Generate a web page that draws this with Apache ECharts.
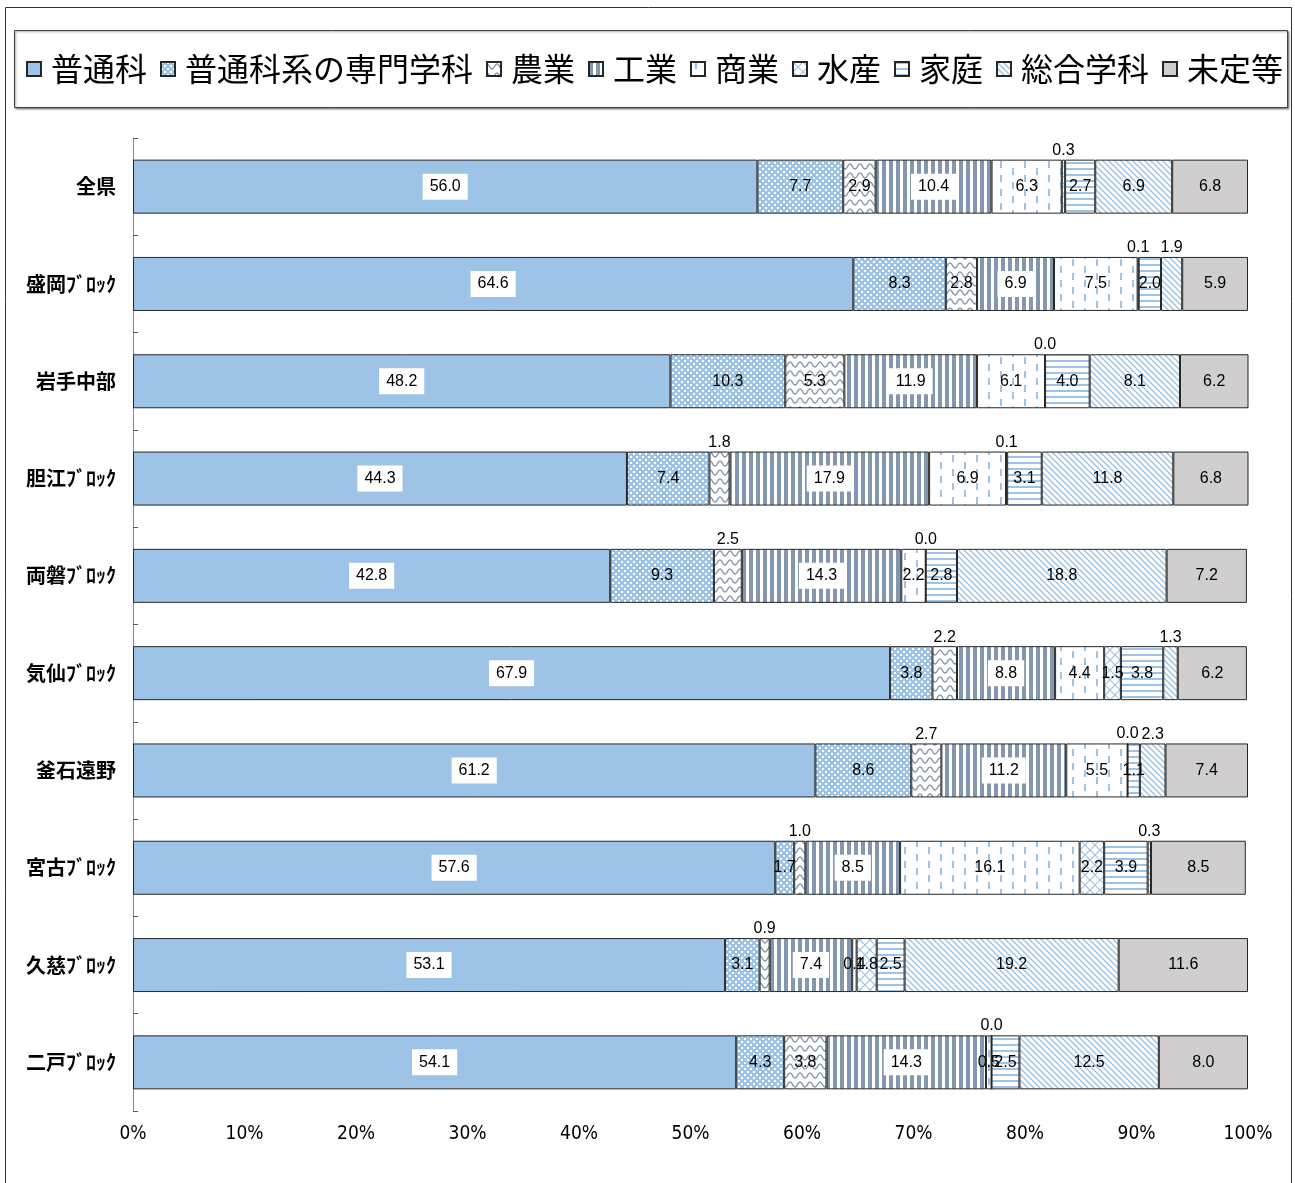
<!DOCTYPE html>
<html>
<head>
<meta charset="utf-8">
<script src="https://cdn.jsdelivr.net/npm/echarts@6/dist/echarts.min.js"></script>
<style>
html,body{margin:0;padding:0;background:#fff;}
#chart{width:1295px;height:1183px;}
</style>
</head>
<body>
<div id="chart"></div>
<script>
// ---- data ----
const categories = ['全県','盛岡ﾌﾞﾛｯｸ','岩手中部','胆江ﾌﾞﾛｯｸ','両磐ﾌﾞﾛｯｸ','気仙ﾌﾞﾛｯｸ','釜石遠野','宮古ﾌﾞﾛｯｸ','久慈ﾌﾞﾛｯｸ','二戸ﾌﾞﾛｯｸ'];
const seriesNames = ['普通科','普通科系の専門学科','農業','工業','商業','水産','家庭','総合学科','未定等'];
const futsu       = [56.0,64.6,48.2,44.3,42.8,67.9,61.2,57.6,53.1,54.1];
const futsuSenmon = [7.7,8.3,10.3,7.4,9.3,3.8,8.6,1.7,3.1,4.3];
const nogyo       = [2.9,2.8,5.3,1.8,2.5,2.2,2.7,1.0,0.9,3.8];
const kogyo       = [10.4,6.9,11.9,17.9,14.3,8.8,11.2,8.5,7.4,14.3];
const shogyo      = [6.3,7.5,6.1,6.9,2.2,4.4,5.5,16.1,0.4,0.5];
const suisan      = [0.3,0.1,0.0,0.1,0.0,1.5,0.0,2.2,1.8,0.0];
const katei       = [2.7,2.0,4.0,3.1,2.8,3.8,1.1,3.9,2.5,2.5];
const sogo        = [6.9,1.9,8.1,11.8,18.8,1.3,2.3,0.3,19.2,12.5];
const mitei       = [6.8,5.9,6.2,6.8,7.2,6.2,7.4,8.5,11.6,8.0];
const seriesValues = [futsu,futsuSenmon,nogyo,kogyo,shogyo,suisan,katei,sogo,mitei];
const xTicks = [0,10,20,30,40,50,60,70,80,90,100];
// labels drawn above the bar instead of inside
const labelsAbove = [
  ['全県','水産'],
  ['盛岡ﾌﾞﾛｯｸ','水産'],['盛岡ﾌﾞﾛｯｸ','総合学科'],
  ['岩手中部','水産'],
  ['胆江ﾌﾞﾛｯｸ','農業'],['胆江ﾌﾞﾛｯｸ','水産'],
  ['両磐ﾌﾞﾛｯｸ','農業'],['両磐ﾌﾞﾛｯｸ','水産'],
  ['気仙ﾌﾞﾛｯｸ','農業'],['気仙ﾌﾞﾛｯｸ','総合学科'],
  ['釜石遠野','農業'],['釜石遠野','水産'],['釜石遠野','総合学科'],
  ['宮古ﾌﾞﾛｯｸ','農業'],['宮古ﾌﾞﾛｯｸ','総合学科'],
  ['久慈ﾌﾞﾛｯｸ','農業'],
  ['二戸ﾌﾞﾛｯｸ','水産']
];

// ---- patterns ----
const LB = '#9DC3E6', BG = '#8497B0';
function pat(w,h,draw){
  const c=document.createElement('canvas'); c.width=w; c.height=h;
  const ctx=c.getContext('2d'); draw(ctx,w,h);
  return {image:c, repeat:'repeat'};
}
const fills = [
  LB,
  pat(6,6,(g,w,h)=>{g.fillStyle=LB;g.fillRect(0,0,w,h);g.fillStyle='#fff';g.fillRect(0,0,2,2);g.fillRect(3,3,2,2);}),
  pat(10,9,(g,w,h)=>{g.fillStyle='#fff';g.fillRect(0,0,w,h);g.strokeStyle=BG;g.lineWidth=1.4;g.beginPath();
     for(let x=0;x<=w;x+=0.5){const y=4.5-2.6*Math.cos(2*Math.PI*x/w); if(x===0)g.moveTo(x,y); else g.lineTo(x,y);} g.stroke();}),
  pat(7,2,(g,w,h)=>{g.fillStyle='#fff';g.fillRect(0,0,w,h);g.fillStyle=BG;g.fillRect(0,0,4,h);}),
  pat(24,14,(g,w,h)=>{g.fillStyle='#fff';g.fillRect(0,0,w,h);g.fillStyle=LB;g.fillRect(4,0,2,7);g.fillRect(16,7,2,7);}),
  pat(10,10,(g,w,h)=>{g.fillStyle='#fff';g.fillRect(0,0,w,h);g.strokeStyle=LB;g.lineWidth=1.2;g.beginPath();
     g.moveTo(0,0);g.lineTo(w,h);g.moveTo(w,0);g.lineTo(0,h);g.stroke();}),
  pat(2,6,(g,w,h)=>{g.fillStyle='#fff';g.fillRect(0,0,w,h);g.fillStyle=LB;g.fillRect(0,0,w,2);}),
  pat(6,6,(g,w,h)=>{g.fillStyle='#fff';g.fillRect(0,0,w,h);g.strokeStyle=LB;g.lineWidth=1.4;g.beginPath();
     for(let k=-1;k<=1;k++){g.moveTo(-1+k*w,-1);g.lineTo(w+1+k*w,h+1);} g.stroke();}),
  '#D0CECE'
];

const aboveSet = new Set(labelsAbove.map(a=>a[0]+'|'+a[1]));
const fmt = p => Number(p.value).toFixed(1);

const series = seriesNames.map((name,si)=>{
  const boxed = (si===0 || si===3);
  return {
    name, type:'bar', stack:'all', barWidth:54,
    itemStyle:{color:fills[si], borderColor:'#262626', borderWidth:1},
    label:{
      show:true, position:'inside', formatter:fmt, color:'#000',
      fontFamily:'Liberation Sans, Arial, sans-serif', fontSize:16,
      backgroundColor: boxed ? '#fff' : 'transparent',
      padding: boxed ? [5,7,5,7] : 0
    },
    emphasis:{disabled:true},
    data: seriesValues[si].map((v,ci)=>{
      if (aboveSet.has(categories[ci]+'|'+name)) {
        return {value:v, label:{position:'top', distance:1, backgroundColor:'transparent', padding:0}};
      }
      return v;
    })
  };
});

const chart = echarts.init(document.getElementById('chart'), null, {renderer:'canvas'});
chart.setOption({
  animation:false,
  backgroundColor:'#fff',
  graphic:[
    {type:'rect', shape:{x:5.5,y:7.5,width:1286,height:1200}, style:{fill:'none', stroke:'#333', lineWidth:1}, silent:true, z:-1},
    {type:'rect', shape:{x:14.5,y:30.5,width:1273,height:77}, style:{fill:'#fff', stroke:'#444', lineWidth:1, shadowColor:'rgba(0,0,0,0.45)', shadowBlur:2, shadowOffsetX:1, shadowOffsetY:1}, silent:true, z:-1}
  ],
  legend:{
    left:26, top:53, padding:0,
    itemWidth:14, itemHeight:14, itemGap:13,
    icon:'rect',
    textStyle:{fontFamily:'"Noto Sans CJK JP", sans-serif', fontSize:32, color:'#000', padding:[0,0,0,5]},
    data:seriesNames
  },
  grid:{left:133, right:47, top:138, bottom:72, containLabel:false},
  xAxis:{
    type:'value', min:0, max:100, interval:10,
    axisLine:{show:false}, axisTick:{show:false}, splitLine:{show:false},
    axisLabel:{formatter: v => xTicks.includes(v) ? v+'%' : '', color:'#000', fontSize:19, margin:14,
      fontFamily:'"DejaVu Sans Condensed", "Liberation Sans Narrow", "Liberation Sans", sans-serif'}
  },
  yAxis:{
    type:'category', data:categories, inverse:true,
    axisLine:{show:true, lineStyle:{color:'#868686', width:1}},
    axisTick:{show:true, inside:true, length:5, lineStyle:{color:'#555'}},
    axisLabel:{color:'#000', fontSize:20, fontWeight:'bold', margin:17,
      fontFamily:'"Noto Sans CJK JP", sans-serif'}
  },
  series
});
</script>
</body>
</html>
